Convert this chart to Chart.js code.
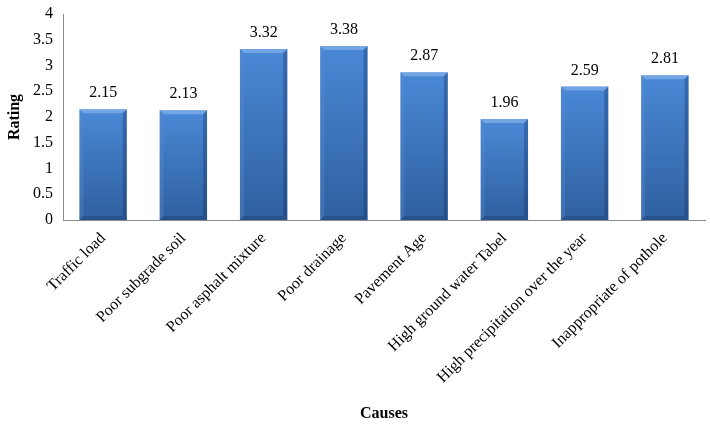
<!DOCTYPE html>
<html>
<head>
<meta charset="utf-8">
<script src="https://cdn.jsdelivr.net/npm/chart.js@4/dist/chart.umd.min.js"></script>
<style>
html,body{margin:0;padding:0;background:#fff;}
#wrap{width:710px;height:427px;position:relative;}
</style>
</head>
<body>
<div id="wrap"><canvas id="c" width="710" height="427"></canvas></div>
<script>
const categories = ["Traffic load","Poor subgrade soil","Poor asphalt mixture","Poor drainage","Pavement Age","High ground water Tabel","High precipitation over the year","Inappropriate of pothole"];
const ratings = [2.15, 2.13, 3.32, 3.38, 2.87, 1.96, 2.59, 2.81];
const yTicks = [0, 0.5, 1, 1.5, 2, 2.5, 3, 3.5, 4];

const FONT = "'Liberation Serif', 'Times New Roman', serif";

function barFill(ctx) {
  const chart = ctx.chart;
  if (!chart.chartArea || ctx.dataIndex === undefined) return '#3c74c0';
  const ys = chart.scales.y;
  const top = ys.getPixelForValue(ctx.raw);
  const base = ys.getPixelForValue(0);
  const g = chart.ctx.createLinearGradient(0, top, 0, base);
  g.addColorStop(0, '#4a88d6');
  g.addColorStop(1, '#2f609f');
  return g;
}

const bevelPlugin = {
  id: 'bevel',
  afterDatasetsDraw(chart) {
    const c = chart.ctx;
    const meta = chart.getDatasetMeta(0);
    meta.data.forEach(bar => {
      const l = bar.x - bar.width / 2, r = bar.x + bar.width / 2;
      const t = bar.y, b = bar.base;
      const d = 4;
      c.save();
      c.fillStyle = 'rgba(150,190,240,0.55)';
      c.beginPath(); c.moveTo(l, t); c.lineTo(r, t); c.lineTo(r - d, t + d); c.lineTo(l + d, t + d); c.closePath(); c.fill();
      c.fillStyle = 'rgba(90,140,210,0.35)';
      c.beginPath(); c.moveTo(l, t); c.lineTo(l + d, t + d); c.lineTo(l + d, b - d); c.lineTo(l, b); c.closePath(); c.fill();
      c.fillStyle = 'rgba(20,50,100,0.35)';
      c.beginPath(); c.moveTo(r, t); c.lineTo(r - d, t + d); c.lineTo(r - d, b - d); c.lineTo(r, b); c.closePath(); c.fill();
      c.fillStyle = 'rgba(20,50,100,0.3)';
      c.beginPath(); c.moveTo(l, b); c.lineTo(l + d, b - d); c.lineTo(r - d, b - d); c.lineTo(r, b); c.closePath(); c.fill();
      c.restore();
    });
  }
};

const valueLabels = {
  id: 'valueLabels',
  afterDatasetsDraw(chart) {
    const c = chart.ctx;
    const meta = chart.getDatasetMeta(0);
    c.save();
    c.font = '16px ' + FONT;
    c.fillStyle = '#000';
    c.textAlign = 'center';
    c.textBaseline = 'alphabetic';
    meta.data.forEach((bar, i) => {
      c.fillText(ratings[i].toFixed(2), bar.x, bar.y - 12);
    });
    c.restore();
  }
};

new Chart(document.getElementById('c'), {
  type: 'bar',
  data: {
    labels: categories,
    datasets: [{
      data: ratings,
      backgroundColor: barFill,
      borderWidth: 0,
      barPercentage: 0.59,
      categoryPercentage: 1.0
    }]
  },
  options: {
    responsive: false,
    animation: false,
    devicePixelRatio: 1,
    layout: { padding: { left: 5, right: 5, top: 0, bottom: 4 } },
    plugins: { legend: { display: false }, tooltip: { enabled: false } },
    scales: {
      x: {
        grid: { display: false, drawTicks: false },
        border: { display: true, color: '#8c8c8c', width: 1 },
        ticks: {
          color: '#000', font: { family: FONT, size: 16 },
          minRotation: 45, maxRotation: 45, padding: 9, autoSkip: false
        },
        title: { display: true, text: 'Causes', color: '#000', font: { family: FONT, size: 16, weight: 'bold' }, padding: { top: 0, bottom: 0 } },
        afterFit(s) { s.height = 203; }
      },
      y: {
        min: 0, max: 4,
        grid: { display: false, drawTicks: false },
        border: { display: true, color: '#8c8c8c', width: 1 },
        afterBuildTicks(s) { s.ticks = yTicks.map(v => ({ value: v })); },
        ticks: {
          color: '#000', font: { family: FONT, size: 16 }, padding: 10,
          callback: v => String(v)
        },
        title: { display: true, text: 'Rating', color: '#000', font: { family: FONT, size: 16, weight: 'bold' }, padding: { top: 0, bottom: 2 } },
        afterFit(s) { s.width = 58; s.paddingTop = 14; s.paddingBottom = 0; }
      }
    }
  },
  plugins: [bevelPlugin, valueLabels]
});
</script>
</body>
</html>
